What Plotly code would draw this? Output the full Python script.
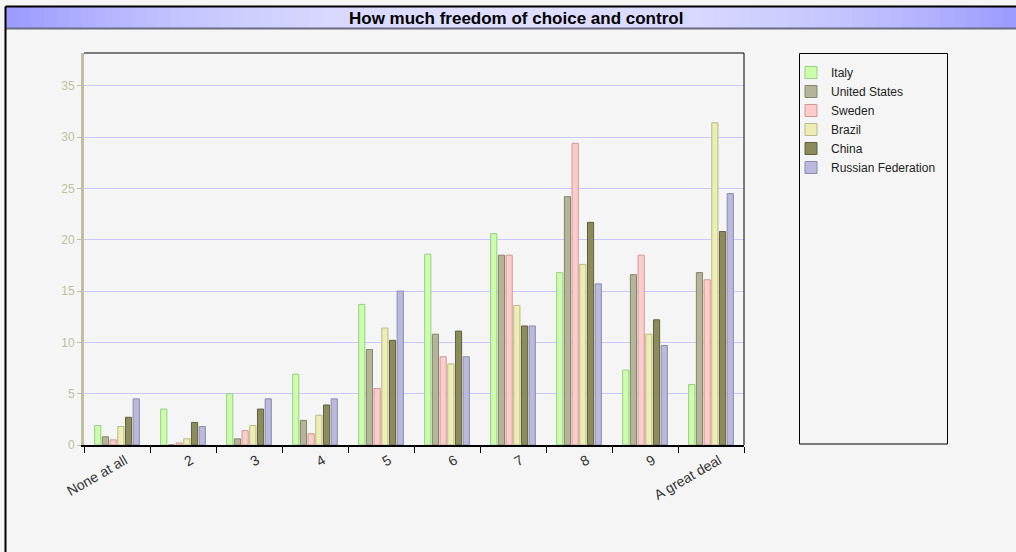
import plotly.graph_objects as go

categories = ["None at all", "2", "3", "4", "5", "6", "7", "8", "9", "A great deal"]
italy = [1.9, 3.5, 5.0, 6.9, 13.7, 18.6, 20.6, 16.8, 7.3, 5.9]
united_states = [0.8, 0.0, 0.6, 2.4, 9.3, 10.8, 18.5, 24.2, 16.6, 16.8]
sweden = [0.5, 0.2, 1.4, 1.1, 5.5, 8.6, 18.5, 29.4, 18.5, 16.1]
brazil = [1.8, 0.6, 1.9, 2.9, 11.4, 7.9, 13.6, 17.6, 10.8, 31.4]
china = [2.7, 2.2, 3.5, 3.9, 10.2, 11.1, 11.6, 21.7, 12.2, 20.8]
russia = [4.5, 1.8, 4.5, 4.5, 15.0, 8.6, 11.6, 15.7, 9.7, 24.5]

series = [
    ("Italy", italy, "#ccffaa", "#99cc88"),
    ("United States", united_states, "#b4b496", "#85856a"),
    ("Sweden", sweden, "#ffcccc", "#cc9999"),
    ("Brazil", brazil, "#eeeeb4", "#b8b888"),
    ("China", china, "#8c8c5a", "#606040"),
    ("Russian Federation", russia, "#babadd", "#8a8ab0"),
]

fig = go.Figure()
for name, vals, fill, line in series:
    fig.add_trace(go.Bar(x=categories, y=vals, name=name,
                         marker=dict(color=fill, line=dict(color=line, width=1))))

W, H = 1016, 552
L, R, T, B = 84, 744, 53, 445
def px(x):
    return (x - L) / (R - L)
def py(y):
    return (B - y) / (B - T)

shapes = []
# title bar gradient
n = 80
edge = (154, 154, 255)
center = (222, 222, 255)
x0p, x1p = 6, 1016
for i in range(n):
    a = x0p + (x1p - x0p) * i / n
    b = x0p + (x1p - x0p) * (i + 1) / n
    t = (i + 0.5) / n
    d = abs(t - 0.5) * 2
    w = 1 - d ** 2.2
    c = tuple(int(round(edge[k] + (center[k] - edge[k]) * w)) for k in range(3))
    shapes.append(dict(type="rect", xref="paper", yref="paper",
                       x0=px(a), x1=px(b) + 0.002, y0=py(28), y1=py(7),
                       fillcolor="rgb(%d,%d,%d)" % c, line=dict(width=0), layer="below"))
shapes.append(dict(type="line", xref="paper", yref="paper", x0=px(6), x1=px(1016),
                   y0=py(28.5), y1=py(28.5), line=dict(color="#6a6a80", width=2)))
# outer frame
shapes.append(dict(type="line", xref="paper", yref="paper", x0=px(5.5), x1=px(1016),
                   y0=py(6.5), y1=py(6.5), line=dict(color="#000000", width=2)))
shapes.append(dict(type="line", xref="paper", yref="paper", x0=px(5.5), x1=px(5.5),
                   y0=py(6.5), y1=py(552), line=dict(color="#000000", width=2)))
# plot top and right border
shapes.append(dict(type="line", xref="paper", yref="paper", x0=0, x1=1,
                   y0=1, y1=1, line=dict(color="#000000", width=1)))
shapes.append(dict(type="line", xref="paper", yref="paper", x0=1, x1=1,
                   y0=0, y1=1, line=dict(color="#000000", width=1)))
# legend box
shapes.append(dict(type="rect", xref="paper", yref="paper", x0=px(799.5), x1=px(947.5),
                   y0=py(444), y1=py(53.5), line=dict(color="#000000", width=1),
                   fillcolor="rgba(0,0,0,0)"))

fig.update_layout(
    width=W, height=H,
    margin=dict(l=L, r=W - R, t=T, b=H - B),
    paper_bgcolor="#f5f5f5", plot_bgcolor="#f5f5f5",
    barmode="group", bargap=0.3, bargroupgap=0.2,
    font=dict(family="Arial, Liberation Sans, sans-serif", size=12, color="#333333"),
    showlegend=True,
    legend=dict(x=px(791), y=py(58), xanchor="left", yanchor="top",
                bgcolor="rgba(0,0,0,0)", borderwidth=0,
                font=dict(size=12, color="#222222"), tracegroupgap=0),
    shapes=shapes,
    annotations=[dict(text="<b>How much freedom of choice and control</b>",
                      xref="paper", yref="paper", x=px(516), y=py(18),
                      xanchor="center", yanchor="middle", showarrow=False,
                      font=dict(size=17, color="#000000",
                                family="Arial, Liberation Sans, sans-serif"))],
)
fig.update_xaxes(showline=True, linecolor="#000000", linewidth=2,
                 ticks="outside", tickson="boundaries", ticklen=6, tickcolor="#000000",
                 tickangle=-30, tickfont=dict(size=14, color="#333333"),
                 ticklabelshift=8, showgrid=False)
fig.update_yaxes(range=[0, 38.2], dtick=5, showline=True, linecolor="#c0c0a0", linewidth=3,
                 ticks="outside", ticklen=4, tickcolor="#c0c0a0",
                 tickfont=dict(size=12, color="#c0c0a0"),
                 showgrid=True, gridcolor="#c8c8ff", gridwidth=1, zeroline=False)

fig.write_html("out.html", config={"displayModeBar": False},
               post_script="document.body.style.margin='0';")
